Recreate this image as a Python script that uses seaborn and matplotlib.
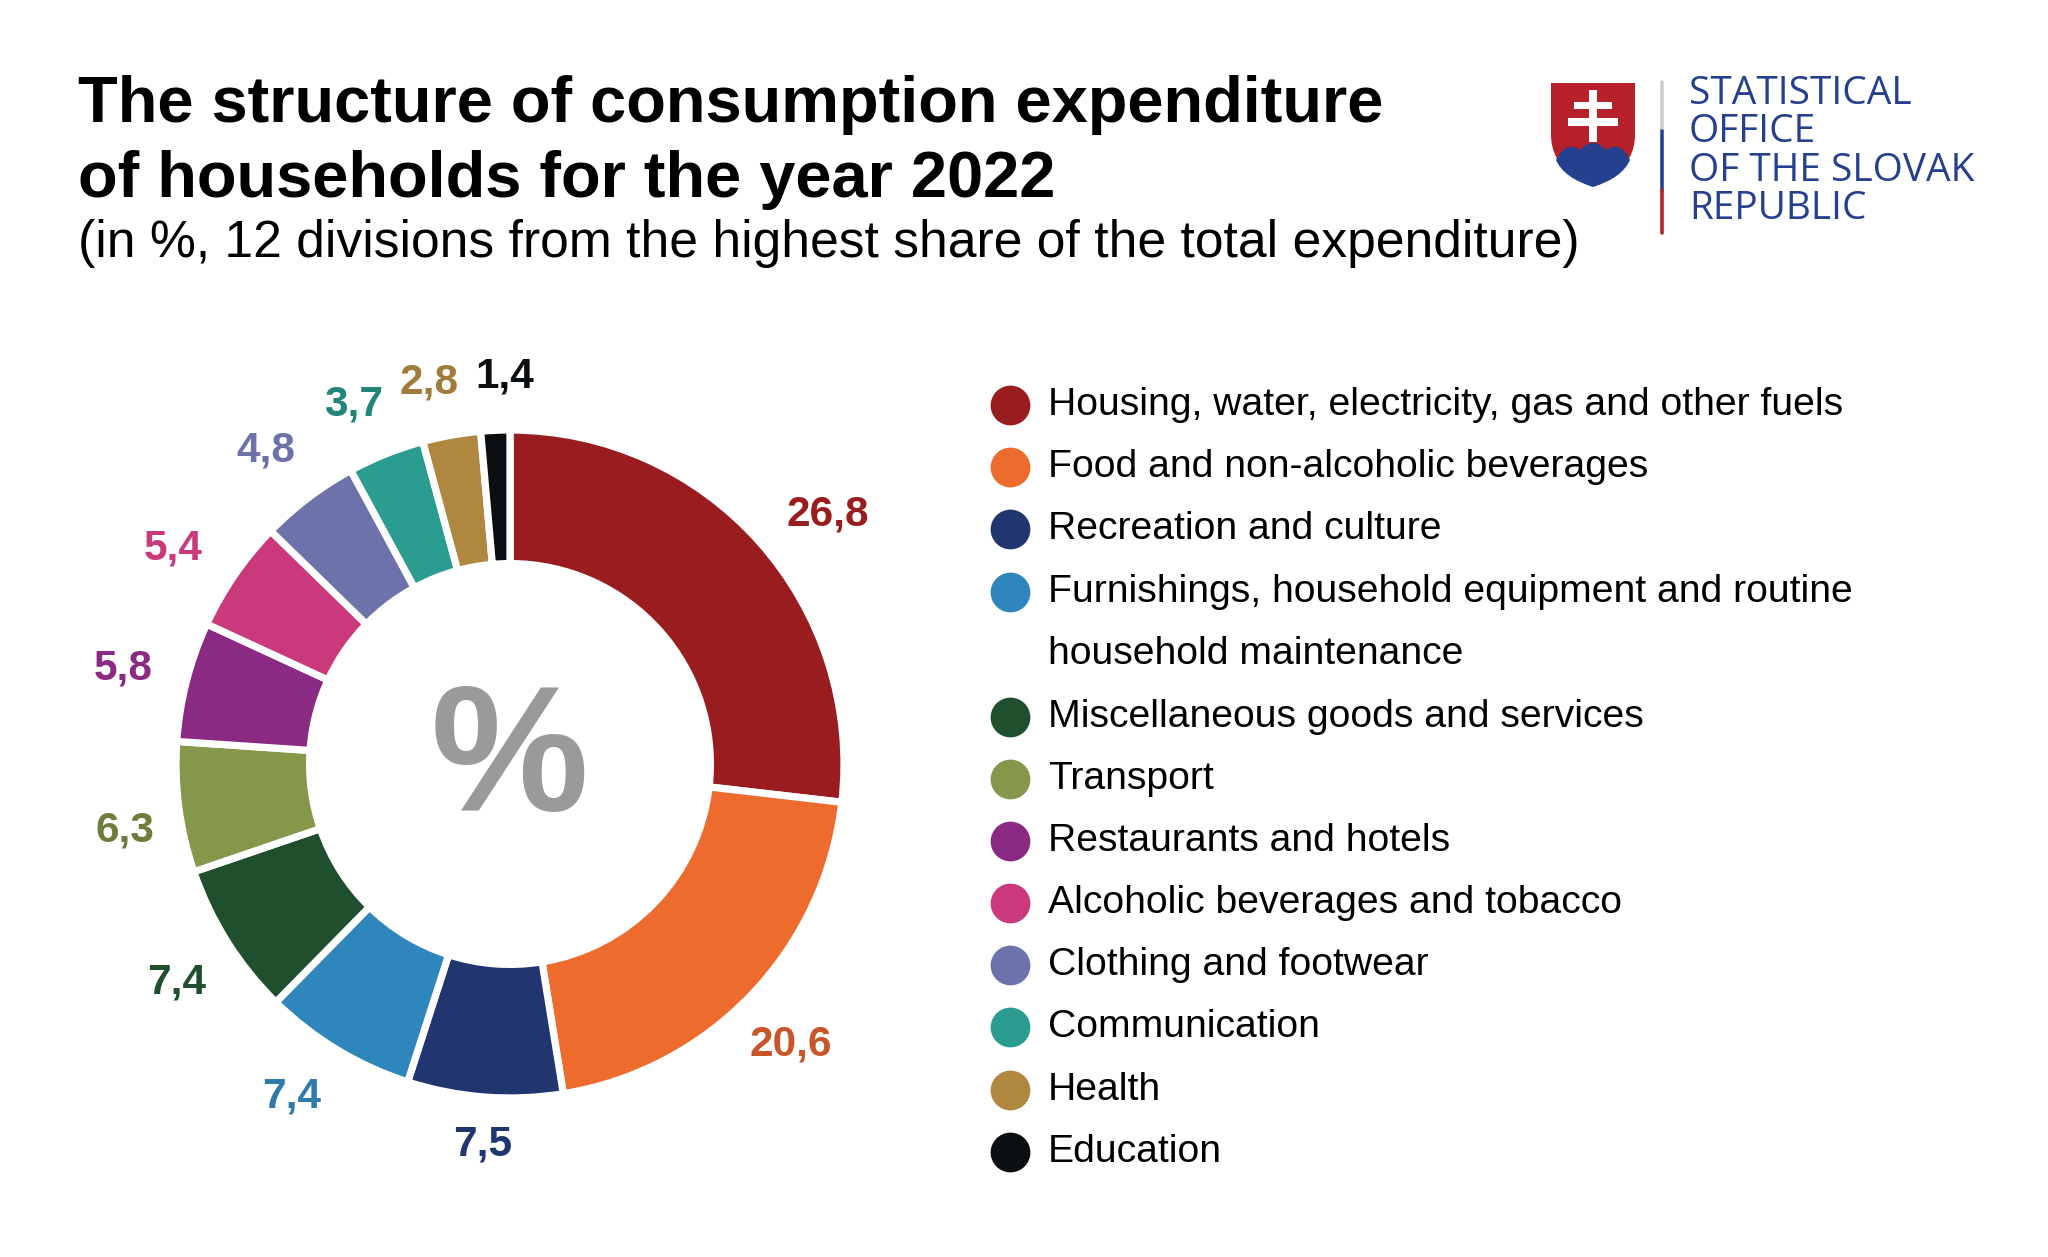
import numpy as np
import matplotlib
matplotlib.use("Agg")
import matplotlib.pyplot as plt
from matplotlib.patches import Polygon, PathPatch
from matplotlib.path import Path
import seaborn as sns

categories = [
    "Housing, water, electricity, gas and other fuels",
    "Food and non-alcoholic beverages",
    "Recreation and culture",
    "Furnishings, household equipment and routine\nhousehold maintenance",
    "Miscellaneous goods and services",
    "Transport",
    "Restaurants and hotels",
    "Alcoholic beverages and tobacco",
    "Clothing and footwear",
    "Communication",
    "Health",
    "Education",
]
values = [26.8, 20.6, 7.5, 7.4, 7.4, 6.3, 5.8, 5.4, 4.8, 3.7, 2.8, 1.4]
value_labels = ["26,8", "20,6", "7,5", "7,4", "7,4", "6,3", "5,8", "5,4", "4,8", "3,7", "2,8", "1,4"]
colors = ["#991d1f", "#ec6b2d", "#21356f", "#2e86bc", "#1f4f2d", "#84974b",
          "#8a2a82", "#c9397b", "#6d72aa", "#2a9d90", "#b0873f", "#0c0f12"]
label_colors = ["#991d1f", "#c9552a", "#21356f", "#2e7aab", "#1f4f2d", "#6f7d3c",
                "#8a2a82", "#c9397b", "#6d72aa", "#23857a", "#a07c3a", "#0c0f12"]
logo_lines = ["STATISTICAL", "OFFICE", "OF THE SLOVAK", "REPUBLIC"]

sns.set_theme(style="white")
plt.rcParams["font.family"] = ["Liberation Sans", "DejaVu Sans"]

W, H = 2048, 1257
fig = plt.figure(figsize=(W / 200, H / 200), dpi=200)


def px_axes(x0, y0, x1, y1):
    return fig.add_axes([x0 / W, 1 - y1 / H, (x1 - x0) / W, (y1 - y0) / H])


# full-figure overlay in pixel coordinates
bg = px_axes(0, 0, W, H)
bg.set_xlim(0, W)
bg.set_ylim(H, 0)
bg.axis("off")

bg.text(78, 122, "The structure of consumption expenditure", fontsize=23.4, fontweight="bold", color="black", va="baseline")
bg.text(78, 197, "of households for the year 2022", fontsize=23.4, fontweight="bold", color="black", va="baseline")
bg.text(78, 257, "(in %, 12 divisions from the highest share of the total expenditure)", fontsize=18.6, color="black", va="baseline")

# donut
cx, cy, r = 510, 764, 334
ax = px_axes(cx - r, cy - r, cx + r, cy + r)
ax.pie(values, colors=colors, startangle=90, counterclock=False, radius=1,
       wedgeprops=dict(width=0.4, edgecolor="white", linewidth=2.6))
ax.set_xlim(-1, 1)
ax.set_ylim(-1, 1)
bg.text(cx, cy + 1, "%", fontsize=64, fontweight="bold", color="#9a9a9a", ha="center", va="center")

label_pos = [(828, 514), (791, 1045), (483, 1144), (292, 1097), (177, 982), (125, 830),
             (123, 669), (173, 549), (266, 451), (354, 405), (429, 382), (505, 376)]
for txt, col, (lx, ly) in zip(value_labels, label_colors, label_pos):
    bg.text(lx, ly, txt, fontsize=15.2, fontweight="bold", color=col, ha="center", va="center")

# legend
rows = [405, 467, 529, 592, 717, 779, 841, 903, 965, 1027, 1090, 1152]
for name, col, y in zip(categories, colors, rows):
    bg.scatter([1010], [y], s=205, color=col, linewidths=0)
    for i, part in enumerate(name.split("\n")):
        bg.text(1048, y + i * 62.5, part, fontsize=14.1, color="black", va="center")

# logo: shield
shield = Path(
    [(1551, 83), (1635, 83), (1635, 135), (1635, 160), (1612, 178), (1593, 187),
     (1574, 178), (1551, 160), (1551, 135), (1551, 83)],
    [Path.MOVETO, Path.LINETO, Path.LINETO, Path.CURVE3, Path.CURVE3, Path.CURVE3,
     Path.CURVE3, Path.CURVE3, Path.LINETO, Path.CLOSEPOLY],
)
patch = PathPatch(shield, facecolor="#b5202a", edgecolor="none")
bg.add_patch(patch)
hills = PathPatch(Path(
    [(1556, 160), (1566, 140), (1580, 150), (1593, 136), (1606, 150), (1620, 140), (1630, 160),
     (1622, 178), (1593, 187), (1564, 178), (1556, 160)],
    [Path.MOVETO, Path.CURVE3, Path.CURVE3, Path.CURVE3, Path.CURVE3, Path.CURVE3, Path.CURVE3,
     Path.CURVE3, Path.CURVE3, Path.CURVE3, Path.CURVE3],
), facecolor="#25408f", edgecolor="none")
bg.add_patch(hills)
for rect in [[(1589, 90), (1597, 90), (1597, 142), (1589, 142)],
             [(1574, 102), (1612, 102), (1612, 109), (1574, 109)],
             [(1568, 118), (1618, 118), (1618, 126), (1568, 126)]]:
    bg.add_patch(Polygon(rect, facecolor="white", edgecolor="none"))
bg.plot([1662, 1662], [82, 131], color="#cccccc", lw=1.3)
bg.plot([1662, 1662], [131, 190], color="#25408f", lw=1.3)
bg.plot([1662, 1662], [190, 233], color="#b5202a", lw=1.3)
for i, line in enumerate(logo_lines):
    bg.text(1689, 94 + i * 38.3, line, fontsize=14, color="#25408f", va="center",
            family=["Open Sans", "DejaVu Sans"])

fig.savefig("out.png", dpi=200, facecolor="white")
